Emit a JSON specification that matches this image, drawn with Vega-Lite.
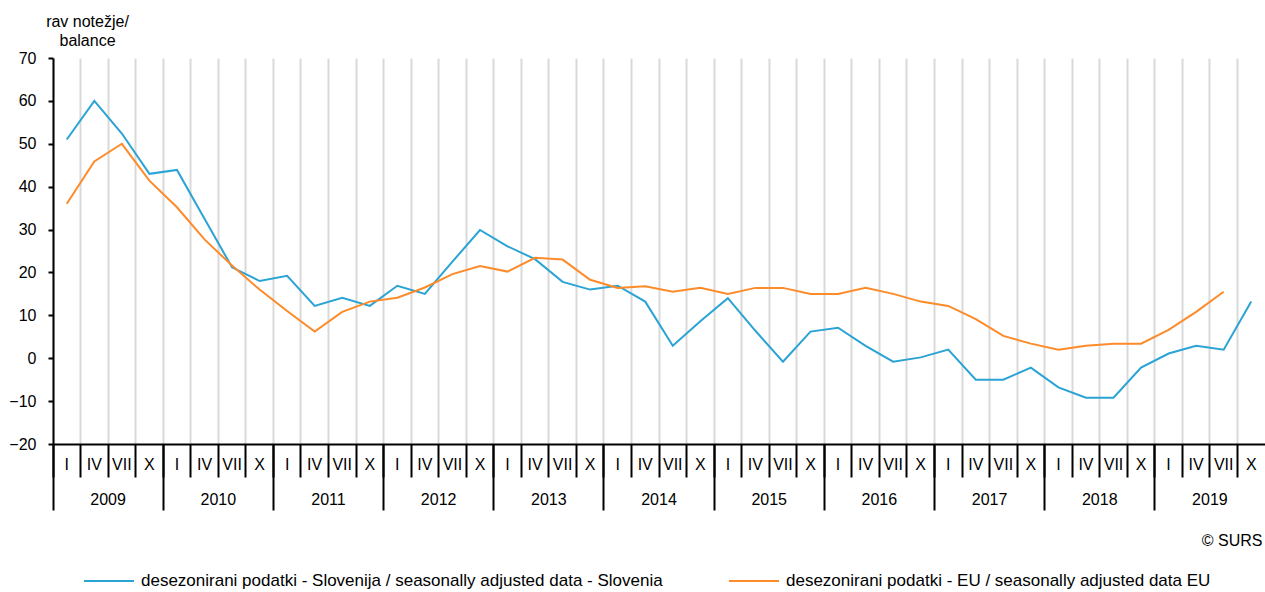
{
  "$schema": "https://vega.github.io/schema/vega-lite/v6.json",
  "width": 1212,
  "height": 386,
  "autosize": {"type": "none"},
  "padding": {"left": 53, "top": 58, "right": 0, "bottom": 148},
  "config": {
    "font": "Liberation Sans",
    "view": {"stroke": null},
    "axis": {"labelColor": "#000", "titleColor": "#000", "labelFont": "Liberation Sans", "titleFont": "Liberation Sans"},
    "legend": {"labelFont": "Liberation Sans", "labelColor": "#000"}
  },
  "data": {
    "values": [
      {"quarter": "2009 I", "series": "Slovenija", "value": 51},
      {"quarter": "2009 IV", "series": "Slovenija", "value": 60},
      {"quarter": "2009 VII", "series": "Slovenija", "value": 52.4},
      {"quarter": "2009 X", "series": "Slovenija", "value": 43},
      {"quarter": "2010 I", "series": "Slovenija", "value": 43.9},
      {"quarter": "2010 IV", "series": "Slovenija", "value": 32.5},
      {"quarter": "2010 VII", "series": "Slovenija", "value": 21.2},
      {"quarter": "2010 X", "series": "Slovenija", "value": 18},
      {"quarter": "2011 I", "series": "Slovenija", "value": 19.2},
      {"quarter": "2011 IV", "series": "Slovenija", "value": 12.2},
      {"quarter": "2011 VII", "series": "Slovenija", "value": 14.1},
      {"quarter": "2011 X", "series": "Slovenija", "value": 12.2},
      {"quarter": "2012 I", "series": "Slovenija", "value": 16.9},
      {"quarter": "2012 IV", "series": "Slovenija", "value": 15},
      {"quarter": "2012 VII", "series": "Slovenija", "value": 22.5},
      {"quarter": "2012 X", "series": "Slovenija", "value": 29.9},
      {"quarter": "2013 I", "series": "Slovenija", "value": 26.1},
      {"quarter": "2013 IV", "series": "Slovenija", "value": 23.1},
      {"quarter": "2013 VII", "series": "Slovenija", "value": 17.8},
      {"quarter": "2013 X", "series": "Slovenija", "value": 16},
      {"quarter": "2014 I", "series": "Slovenija", "value": 16.9},
      {"quarter": "2014 IV", "series": "Slovenija", "value": 13.2},
      {"quarter": "2014 VII", "series": "Slovenija", "value": 2.9},
      {"quarter": "2014 X", "series": "Slovenija", "value": 8.6},
      {"quarter": "2015 I", "series": "Slovenija", "value": 14},
      {"quarter": "2015 IV", "series": "Slovenija", "value": 6.4},
      {"quarter": "2015 VII", "series": "Slovenija", "value": -0.8},
      {"quarter": "2015 X", "series": "Slovenija", "value": 6.2},
      {"quarter": "2016 I", "series": "Slovenija", "value": 7.1},
      {"quarter": "2016 IV", "series": "Slovenija", "value": 2.9},
      {"quarter": "2016 VII", "series": "Slovenija", "value": -0.8},
      {"quarter": "2016 X", "series": "Slovenija", "value": 0.2},
      {"quarter": "2017 I", "series": "Slovenija", "value": 2},
      {"quarter": "2017 IV", "series": "Slovenija", "value": -5},
      {"quarter": "2017 VII", "series": "Slovenija", "value": -5},
      {"quarter": "2017 X", "series": "Slovenija", "value": -2.2},
      {"quarter": "2018 I", "series": "Slovenija", "value": -6.8},
      {"quarter": "2018 IV", "series": "Slovenija", "value": -9.2},
      {"quarter": "2018 VII", "series": "Slovenija", "value": -9.2},
      {"quarter": "2018 X", "series": "Slovenija", "value": -2.2},
      {"quarter": "2019 I", "series": "Slovenija", "value": 1.1},
      {"quarter": "2019 IV", "series": "Slovenija", "value": 2.9},
      {"quarter": "2019 VII", "series": "Slovenija", "value": 2},
      {"quarter": "2019 X", "series": "Slovenija", "value": 13.2},
      {"quarter": "2009 I", "series": "EU", "value": 36},
      {"quarter": "2009 IV", "series": "EU", "value": 45.9},
      {"quarter": "2009 VII", "series": "EU", "value": 50},
      {"quarter": "2009 X", "series": "EU", "value": 41.4},
      {"quarter": "2010 I", "series": "EU", "value": 35.2},
      {"quarter": "2010 IV", "series": "EU", "value": 27.7},
      {"quarter": "2010 VII", "series": "EU", "value": 21.6},
      {"quarter": "2010 X", "series": "EU", "value": 16},
      {"quarter": "2011 I", "series": "EU", "value": 11},
      {"quarter": "2011 IV", "series": "EU", "value": 6.2},
      {"quarter": "2011 VII", "series": "EU", "value": 10.8},
      {"quarter": "2011 X", "series": "EU", "value": 13.2},
      {"quarter": "2012 I", "series": "EU", "value": 14.1},
      {"quarter": "2012 IV", "series": "EU", "value": 16.5},
      {"quarter": "2012 VII", "series": "EU", "value": 19.6},
      {"quarter": "2012 X", "series": "EU", "value": 21.5},
      {"quarter": "2013 I", "series": "EU", "value": 20.2},
      {"quarter": "2013 IV", "series": "EU", "value": 23.4},
      {"quarter": "2013 VII", "series": "EU", "value": 23},
      {"quarter": "2013 X", "series": "EU", "value": 18.3},
      {"quarter": "2014 I", "series": "EU", "value": 16.4},
      {"quarter": "2014 IV", "series": "EU", "value": 16.8},
      {"quarter": "2014 VII", "series": "EU", "value": 15.5},
      {"quarter": "2014 X", "series": "EU", "value": 16.4},
      {"quarter": "2015 I", "series": "EU", "value": 15},
      {"quarter": "2015 IV", "series": "EU", "value": 16.4},
      {"quarter": "2015 VII", "series": "EU", "value": 16.4},
      {"quarter": "2015 X", "series": "EU", "value": 15},
      {"quarter": "2016 I", "series": "EU", "value": 15},
      {"quarter": "2016 IV", "series": "EU", "value": 16.4},
      {"quarter": "2016 VII", "series": "EU", "value": 15},
      {"quarter": "2016 X", "series": "EU", "value": 13.2},
      {"quarter": "2017 I", "series": "EU", "value": 12.2},
      {"quarter": "2017 IV", "series": "EU", "value": 9.1},
      {"quarter": "2017 VII", "series": "EU", "value": 5.2},
      {"quarter": "2017 X", "series": "EU", "value": 3.4},
      {"quarter": "2018 I", "series": "EU", "value": 2},
      {"quarter": "2018 IV", "series": "EU", "value": 2.9},
      {"quarter": "2018 VII", "series": "EU", "value": 3.4},
      {"quarter": "2018 X", "series": "EU", "value": 3.4},
      {"quarter": "2019 I", "series": "EU", "value": 6.6},
      {"quarter": "2019 IV", "series": "EU", "value": 10.8},
      {"quarter": "2019 VII", "series": "EU", "value": 15.5}
    ]
  },
  "encoding": {
    "y": {
      "field": "value",
      "type": "quantitative",
      "scale": {"domain": [-20, 70], "nice": false, "zero": false},
      "axis": {
        "title": ["rav notežje/", "balance"],
        "titleAngle": 0,
        "titleX": 34,
        "titleY": -45,
        "titleAlign": "center",
        "titleBaseline": "top",
        "titleFontSize": 16,
        "titleFontWeight": "normal",
        "titleLineHeight": 19,
        "values": [-20, -10, 0, 10, 20, 30, 40, 50, 60, 70],
        "grid": false,
        "tickSize": 5,
        "tickColor": "#000",
        "tickWidth": 2,
        "domainColor": "#000",
        "domainWidth": 2,
        "labelPadding": 12,
        "labelFontSize": 16
      }
    },
    "color": {
      "field": "series",
      "type": "nominal",
      "scale": {"domain": ["Slovenija", "EU"], "range": ["#2aa3d5", "#fd8b2a"]},
      "legend": {
        "orient": "none",
        "legendX": 30,
        "legendY": 497,
        "direction": "horizontal",
        "title": null,
        "symbolType": "stroke",
        "symbolSize": 2500,
        "symbolStrokeWidth": 2,
        "labelFontSize": 17,
        "labelLimit": 0,
        "labelOffset": 6,
        "columnPadding": 62,
        "labelExpr": "datum.value == 'EU' ? 'desezonirani podatki - EU / seasonally adjusted data EU' : 'desezonirani podatki - Slovenija / seasonally adjusted data - Slovenia'"
      }
    }
  },
  "layer": [
    {
      "transform": [{"filter": "datum.series == 'Slovenija'"}],
      "mark": {"type": "line", "strokeWidth": 2},
      "encoding": {
        "x": {
          "field": "quarter",
          "type": "ordinal",
          "scale": {"type": "band", "paddingInner": 0, "paddingOuter": 0},
          "axis": {
            "orient": "bottom",
            "title": null,
            "bandPosition": 0,
            "labelExpr": "split(datum.value, ' ')[1]",
            "labelAngle": 0,
            "labelPadding": -13,
            "labelBaseline": "middle",
            "labelFontSize": 16,
            "labelOverlap": false,
            "labelFlush": false,
            "labelBound": false,
            "tickSize": 33,
            "tickColor": "#000",
            "tickWidth": 2,
            "domainColor": "#000",
            "domainWidth": 2,
            "grid": true,
            "gridColor": "#d9d9d9",
            "gridWidth": 2
          }
        }
      }
    },
    {
      "transform": [{"filter": "datum.series == 'EU'"}],
      "mark": {"type": "line", "strokeWidth": 2},
      "encoding": {
        "x": {
          "field": "quarter",
          "type": "ordinal",
          "scale": {"type": "band", "paddingInner": 0, "paddingOuter": 0},
          "axis": {
            "orient": "bottom",
            "values": ["2009 I", "2010 I", "2011 I", "2012 I", "2013 I", "2014 I", "2015 I", "2016 I", "2017 I", "2018 I", "2019 I"],
            "bandPosition": 0,
            "labelExpr": "split(datum.value, ' ')[0]",
            "labelAngle": 0,
            "labelOffset": 41.32,
            "labelPadding": -10.5,
            "labelBaseline": "middle",
            "labelFontSize": 16,
            "labelOverlap": false,
            "labelFlush": false,
            "labelBound": false,
            "tickSize": 66,
            "tickColor": "#000",
            "tickWidth": 2,
            "domain": false,
            "grid": false,
            "title": "© SURS",
            "titleX": 1209,
            "titleY": 96,
            "titleAlign": "right",
            "titleBaseline": "middle",
            "titleFontSize": 16,
            "titleFontWeight": "normal"
          }
        }
      }
    }
  ],
  "resolve": {"axis": {"x": "independent"}}
}
